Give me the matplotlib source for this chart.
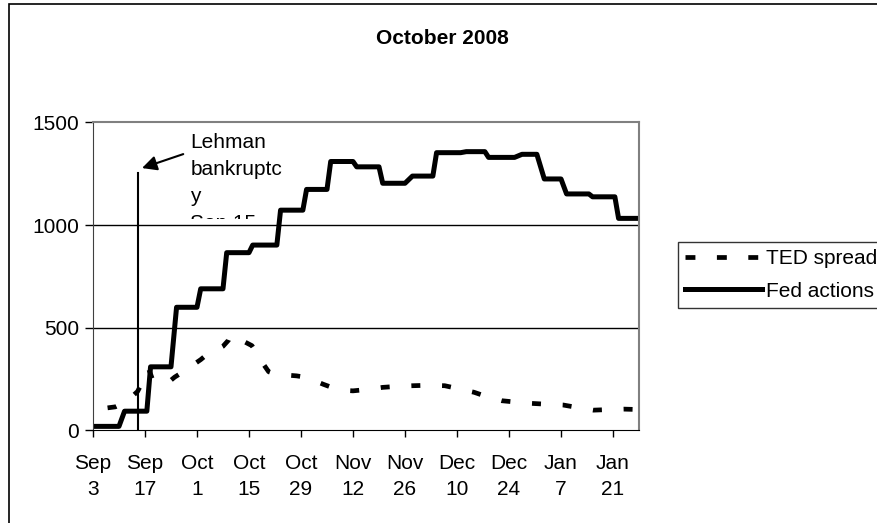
import matplotlib.pyplot as plt
from matplotlib.patches import Rectangle
from matplotlib.transforms import Bbox, TransformedBbox

plt.rcParams['font.family'] = ['Liberation Sans', 'DejaVu Sans']
plt.rcParams['font.size'] = 15

# days after Sep 3 2008
fed_days = [0, 7, 8.5, 14.5, 15.5, 21, 22.5, 28, 29, 35, 36, 42, 43, 49.5, 50.5,
            56.5, 57.5, 63, 64, 70, 71, 77, 78, 84, 86, 91.5, 92.5, 99, 100.5,
            105.5, 106.5, 113.5, 115.5, 119.5, 121.5, 126, 127.5, 133.5, 134.5,
            140.5, 141.5, 147]
fed_vals = [20, 20, 94, 94, 310, 310, 600, 600, 690, 690, 866, 866, 903, 903, 1073,
            1073, 1174, 1174, 1310, 1310, 1284, 1284, 1204, 1204, 1239, 1239, 1353,
            1353, 1358, 1358, 1330, 1330, 1345, 1345, 1225, 1225, 1152, 1152, 1138,
            1138, 1033, 1033]

ted_days = [0, 3, 6, 9, 12, 14, 15, 16, 18, 20, 22, 25, 27, 29, 31, 33, 35, 36.5,
            37, 39, 41, 42.8, 44, 46, 47.3, 49, 52, 54.8, 57, 60, 62, 65, 68, 70,
            74, 78, 82, 86, 90, 94.7, 98, 102.6, 106, 110, 114, 118, 122, 126.6,
            131, 134.7, 139, 143, 147]
ted_vals = [105, 108, 115, 140, 190, 260, 300, 250, 235, 230, 260, 294, 320, 345,
            375, 390, 410, 440, 464, 450, 430, 413, 380, 320, 286, 275, 270, 266,
            260, 240, 225, 205, 195, 193, 200, 210, 215, 218, 220, 218, 205, 186,
            165, 145, 138, 132, 128, 124, 110, 99, 102, 104, 102]

tick_days = [0, 14, 28, 42, 56, 70, 84, 98, 112, 126, 140]
tick_labels = ['Sep\n3', 'Sep\n17', 'Oct\n1', 'Oct\n15', 'Oct\n29', 'Nov\n12',
               'Nov\n26', 'Dec\n10', 'Dec\n24', 'Jan\n7', 'Jan\n21']

lehman_day = 12
lehman_top = 1252

fig = plt.figure(figsize=(8.78, 5.23), dpi=100)
ax = fig.add_axes([0.1059, 0.1769, 0.6219, 0.5889])

ax.plot(ted_days, ted_vals, color='black', lw=3.4, linestyle=(3.4, (1.9, 4.6)),
        dash_capstyle='butt', label='TED spread')
ax.plot(fed_days, fed_vals, color='black', lw=3.6, solid_joinstyle='round',
        label='Fed actions')
ax.plot([lehman_day, lehman_day], [0, lehman_top], color='black', lw=1.5)

ax.annotate('', xy=(13.2, 1278), xytext=(24.3, 1346),
            arrowprops=dict(arrowstyle='-|>', color='black', lw=1.5,
                            mutation_scale=22, shrinkA=0, shrinkB=0))
t = ax.text(26.2, 1448, 'Lehman\nbankruptc\ny\nSep 15', ha='left', va='top',
            linespacing=1.53)
t.set_clip_on(True)
t.set_clip_box(TransformedBbox(Bbox([[0, 1030], [147, 1500]]), ax.transData))

ax.set_xlim(0, 147)
ax.set_ylim(0, 1500)
ax.set_xticks(tick_days)
ax.set_xticklabels(tick_labels, linespacing=1.43)
ax.set_yticks([0, 500, 1000, 1500])
ax.tick_params(axis='x', direction='out', length=5, width=1, pad=12)
ax.tick_params(axis='y', direction='out', length=6, width=1, pad=4)
for y in [500, 1000]:
    ax.axhline(y, color='black', lw=1, zorder=0)
for s in ['top', 'right']:
    ax.spines[s].set_color('#808080')
    ax.spines[s].set_linewidth(1.5)
ax.spines['left'].set_color('#404040')
ax.spines['bottom'].set_color('black')

fig.text(0.504, 0.927, 'October 2008', ha='center', va='center',
         fontweight='bold', fontsize=15)

leg = fig.legend(loc='upper left', bbox_to_anchor=(677.7 / 878, 1 - 241.7 / 523),
                 frameon=True, fancybox=False, edgecolor='black',
                 handlelength=3.7, handletextpad=0.2, borderpad=0.35,
                 labelspacing=0.65, borderaxespad=0)
leg.get_frame().set_linewidth(1)
leg.get_lines()[0].set_linestyle((0, (2.1, 4.55)))

fig.patches.append(Rectangle((9 / 878, -0.5), 2, 1.5 - 4 / 523, transform=fig.transFigure,
                             fill=False, edgecolor='black', lw=1.2))

plt.savefig('out.png', dpi=100)
